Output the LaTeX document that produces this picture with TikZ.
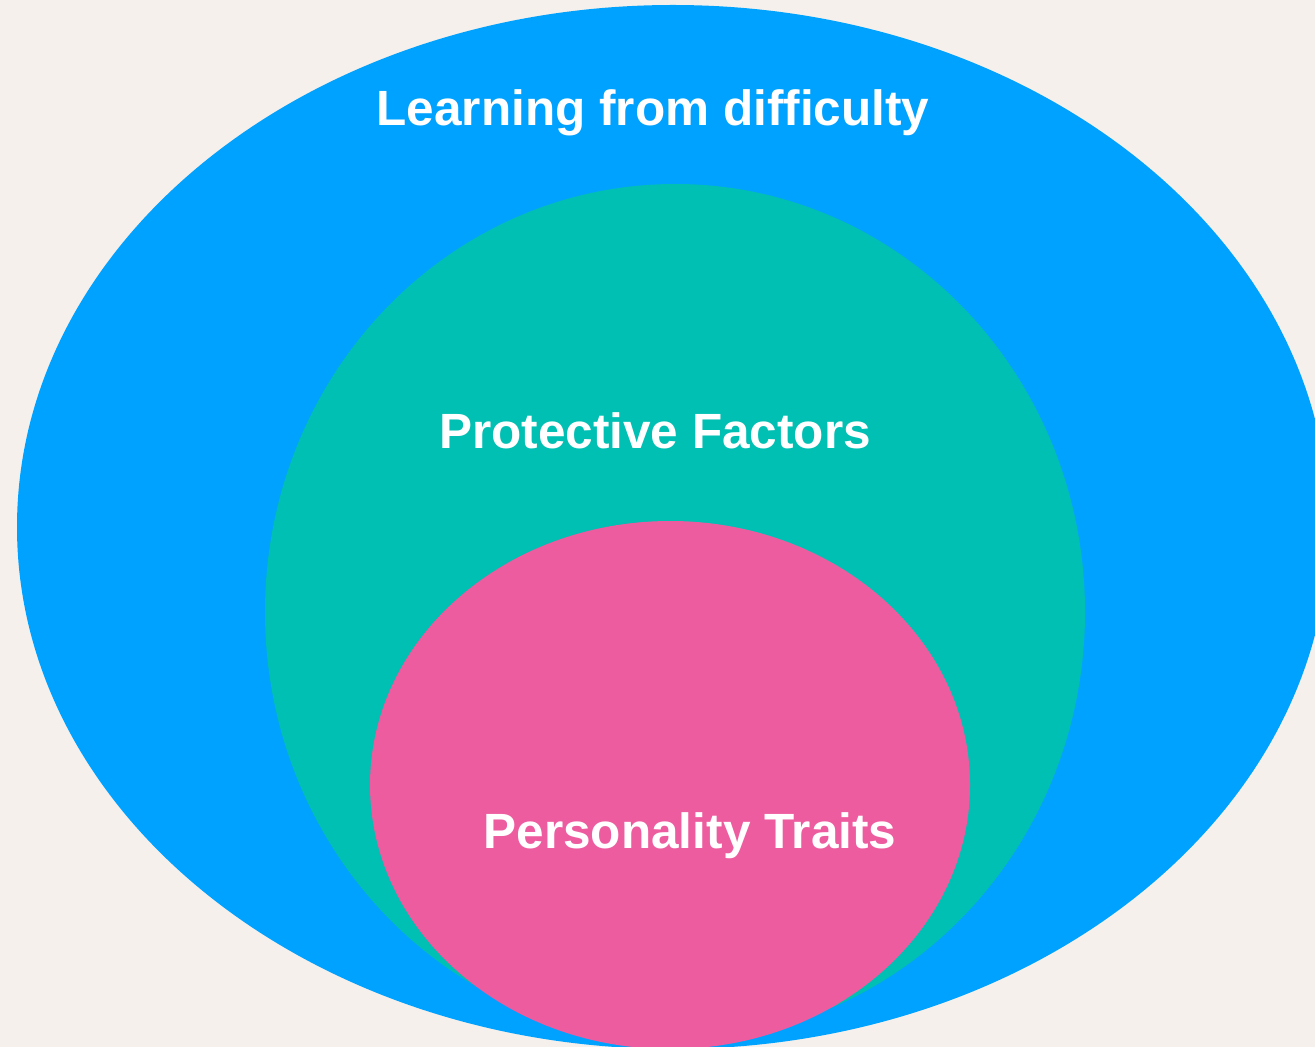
\documentclass[tikz,border=0pt]{standalone}
\usepackage{fontspec}
\setmainfont{Liberation Sans}
\usetikzlibrary{shapes.geometric}
\definecolor{bgbeige}{HTML}{F5F0EB}
\definecolor{outerblue}{HTML}{00A2FF}
\definecolor{midteal}{HTML}{00BFB3}
\definecolor{innerpink}{HTML}{EE5CA0}
\begin{document}
\begin{tikzpicture}[x=0.5pt, y=-0.5pt, every node/.style = {shape=ellipse, draw=none, inner sep=0pt}]
	\tikzstyle{circ} = [anchor=center]
	\tikzstyle{label} = [shape=rectangle, anchor=base, text=white, font=\fontsize{24.75pt}{28pt}\selectfont\bfseries]
	\useasboundingbox (0,0) rectangle (1315,1047);
	\fill[bgbeige] (0,0) rectangle (1315,1047);
	\clip (0,0) rectangle (1315,1047);
	\node[circ, fill=outerblue, minimum width=656pt, minimum height=522pt] (learning) at (673,527) {};
	\node[circ, fill=midteal, minimum width=410pt, minimum height=428pt] (protective) at (675,612) {};
	\node[circ, fill=innerpink, minimum width=300pt, minimum height=264pt] (personality) at (670,785) {};
	\node[label] (learningtext) at (653,126) {Learning from difficulty};
	\node[label] (protectivetext) at (655,448) {Protective Factors};
	\node[label] (personalitytext) at (690,848) {Personality Traits};
\end{tikzpicture}
\end{document}
